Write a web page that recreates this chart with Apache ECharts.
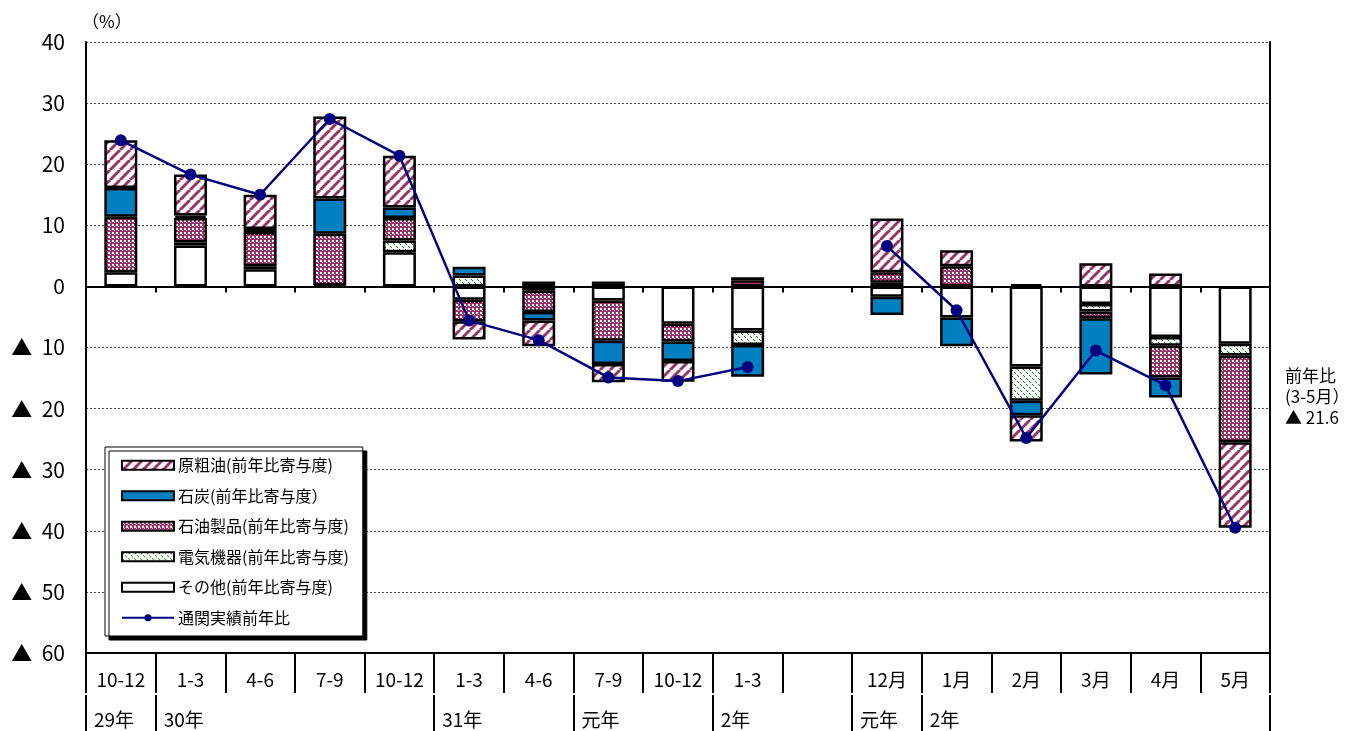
<!DOCTYPE html>
<html>
<head>
<meta charset="utf-8">
<script src="https://cdn.jsdelivr.net/npm/echarts@6/dist/echarts.min.js"></script>
<style>
  html, body { margin: 0; padding: 0; background: #fff; }
  #chart { width: 1366px; height: 731px; }
</style>
</head>
<body>
<div id="chart"></div>
<script>
// 区分（上段）
const categories = ['10-12', '1-3', '4-6', '7-9', '10-12', '1-3', '4-6', '7-9', '10-12', '1-3', '', '12月', '1月', '2月', '3月', '4月', '5月'];
// 年ラベル（下段、区切り位置ごと）
const yearLabels = ['29年', '30年', '', '', '', '31年', '', '元年', '', '2年', '', '元年', '2年', '', '', '', '', ''];

// 寄与度
const crudeOil = [7.8, 6.7, 5.6, 13.4, 8.5, -3.0, -4.2, -3.0, -3.4, 0.5, null, 8.8, 2.6, -4.3, 3.8, 2.1, -14.0];
const coal = [4.7, 0.4, 0.5, 5.8, 1.7, 1.4, -1.4, -3.8, -3.2, -5.2, null, -3.0, -4.7, -2.4, -9.2, -3.3, null];
const petroleum = [9.1, 4.0, 5.6, 8.4, 3.7, -3.5, -3.5, -6.6, -2.9, 1.0, null, 1.7, 3.3, 0.4, -1.1, -5.2, -14.2];
const electric = [null, 0.5, 0.5, null, 1.9, 1.8, 0.8, 0.8, null, -2.4, null, 0.6, null, -5.6, -1.2, -1.4, -1.9];
const others = [2.3, 6.7, 2.8, 0.2, 5.6, -2.2, -0.7, -2.3, -6.1, -7.2, null, -1.7, -5.1, -13.1, -2.9, -8.3, -9.4];
// 通関実績前年比
const total = [23.9, 18.3, 15.0, 27.4, 21.4, -5.6, -8.8, -14.9, -15.5, -13.2, null, 6.6, -3.9, -24.8, -10.5, -16.2, -39.5];

const FONT = '"Noto Sans CJK JP", "Noto Sans", sans-serif';
const PURPLE = '#993366';

function pattern(size, draw) {
  const c = document.createElement('canvas');
  c.width = size;
  c.height = size;
  const ctx = c.getContext('2d');
  ctx.fillStyle = '#fff';
  ctx.fillRect(0, 0, size, size);
  draw(ctx, size);
  return { image: c, repeat: 'repeat' };
}

// 斜線（原粗油）
const stripeFill = pattern(10, function (ctx, s) {
  ctx.strokeStyle = PURPLE;
  ctx.lineWidth = 3;
  [-s, 0, s].forEach(function (o) {
    ctx.beginPath();
    ctx.moveTo(o, s);
    ctx.lineTo(o + s, 0);
    ctx.stroke();
  });
});
// 格子（石油製品）
const checkFill = pattern(4, function (ctx) {
  ctx.fillStyle = PURPLE;
  ctx.fillRect(0, 0, 4, 4);
  ctx.fillStyle = '#fff';
  ctx.fillRect(0, 0, 2, 2);
  ctx.fillRect(2, 2, 1, 1);
});
// 点線斜線（電気機器）
const greenFill = pattern(6, function (ctx, s) {
  ctx.fillStyle = '#009000';
  for (let i = 0; i < s; i++) {
    if (i % 3 !== 2) ctx.fillRect(i, i, 1, 1);
  }
});

const chart = echarts.init(document.getElementById('chart'));

function barSeries(name, data, color) {
  return {
    name: name,
    type: 'bar',
    stack: 'total',
    xAxisIndex: 0,
    barWidth: 33,
    data: data,
    itemStyle: { color: color, borderColor: '#000', borderWidth: 2.5 }
  };
}

const legendNames = ['原粗油(前年比寄与度)', '石炭(前年比寄与度）', '石油製品(前年比寄与度)', '電気機器(前年比寄与度)', 'その他(前年比寄与度)', '通関実績前年比'];

const option = {
  animation: false,
  textStyle: { fontFamily: FONT },
  grid: { left: 86, right: 96, top: 42, bottom: 78 },
  legend: {
    orient: 'vertical',
    left: 105,
    top: 447,
    padding: [8, 14, 8, 16],
    itemWidth: 52,
    itemHeight: 9,
    itemGap: 10,
    backgroundColor: '#fff',
    borderColor: '#000',
    borderWidth: 1,
    shadowColor: '#000',
    shadowBlur: 0,
    shadowOffsetX: 4,
    shadowOffsetY: 4,
    textStyle: { fontSize: 16, lineHeight: 20.5, color: '#000', fontFamily: FONT, padding: [0, 0, 0, -1] },
    data: legendNames.map(function (n, i) {
      return i < 5 ? { name: n, icon: 'rect' } : { name: n };
    })
  },
  xAxis: [
    {
      type: 'category',
      data: categories,
      position: 'bottom',
      axisLine: { onZero: false, lineStyle: { color: '#000', width: 2 } },
      axisTick: { show: true, interval: 0, length: 40, lineStyle: { color: '#000', width: 2 } },
      axisLabel: { interval: 0, margin: 17, fontSize: 19, color: '#000', fontFamily: FONT },
      splitLine: { show: false }
    },
    {
      type: 'category',
      data: yearLabels,
      boundaryGap: false,
      position: 'bottom',
      offset: 42,
      axisLine: { show: false, onZero: false },
      axisTick: {
        show: true,
        interval: function (i) { return yearLabels[i] !== '' || i === yearLabels.length - 1; },
        length: 40,
        lineStyle: { color: '#000', width: 2 }
      },
      axisLabel: {
        interval: 0, align: 'left', margin: 15, padding: [0, 0, 0, 8],
        fontSize: 19, color: '#000', fontFamily: FONT
      }
    },
    {
      type: 'category',
      data: categories,
      axisLine: { onZero: true, lineStyle: { color: '#000', width: 2 } },
      axisTick: { show: true, inside: true, interval: 0, length: 6, lineStyle: { color: '#000', width: 2 } },
      axisLabel: { show: false }
    }
  ],
  yAxis: [
    {
      type: 'value',
      min: -60,
      max: 40,
      interval: 10,
      name: '（%）',
      nameLocation: 'end',
      nameGap: 12,
      nameTextStyle: { fontSize: 17, color: '#000', align: 'left', padding: [0, 0, 0, -4], fontFamily: FONT },
      axisLine: { show: true, lineStyle: { color: '#000', width: 2 } },
      axisTick: { show: false },
      axisLabel: {
        margin: 21, fontSize: 21, color: '#000', fontFamily: FONT,
        formatter: function (v) { return v < 0 ? '▲  ' + (-v) : String(v); }
      },
      splitLine: { show: true, lineStyle: { color: '#444', type: [2, 2], width: 1 } }
    },
    {
      type: 'value',
      min: -60,
      max: 40,
      interval: 10,
      position: 'right',
      axisLine: { show: true, lineStyle: { color: '#000', width: 2 } },
      axisTick: { show: false },
      axisLabel: { show: false },
      splitLine: { show: false }
    }
  ],
  graphic: [
    {
      type: 'text',
      left: 1285,
      top: 365,
      style: {
        text: '前年比\n(3-5月）\n▲ 21.6',
        font: '17px ' + FONT,
        fill: '#000',
        lineHeight: 21,
        align: 'left'
      }
    }
  ],
  series: [
    barSeries(legendNames[4], others, '#fff'),
    barSeries(legendNames[3], electric, greenFill),
    barSeries(legendNames[2], petroleum, checkFill),
    barSeries(legendNames[1], coal, '#0080C0'),
    barSeries(legendNames[0], crudeOil, stripeFill),
    {
      name: legendNames[5],
      type: 'line',
      xAxisIndex: 0,
      data: total,
      connectNulls: false,
      symbol: 'circle',
      symbolSize: 12,
      z: 5,
      lineStyle: { color: '#000080', width: 2.5 },
      itemStyle: { color: '#000080' }
    }
  ]
};

chart.setOption(option);
</script>
</body>
</html>
